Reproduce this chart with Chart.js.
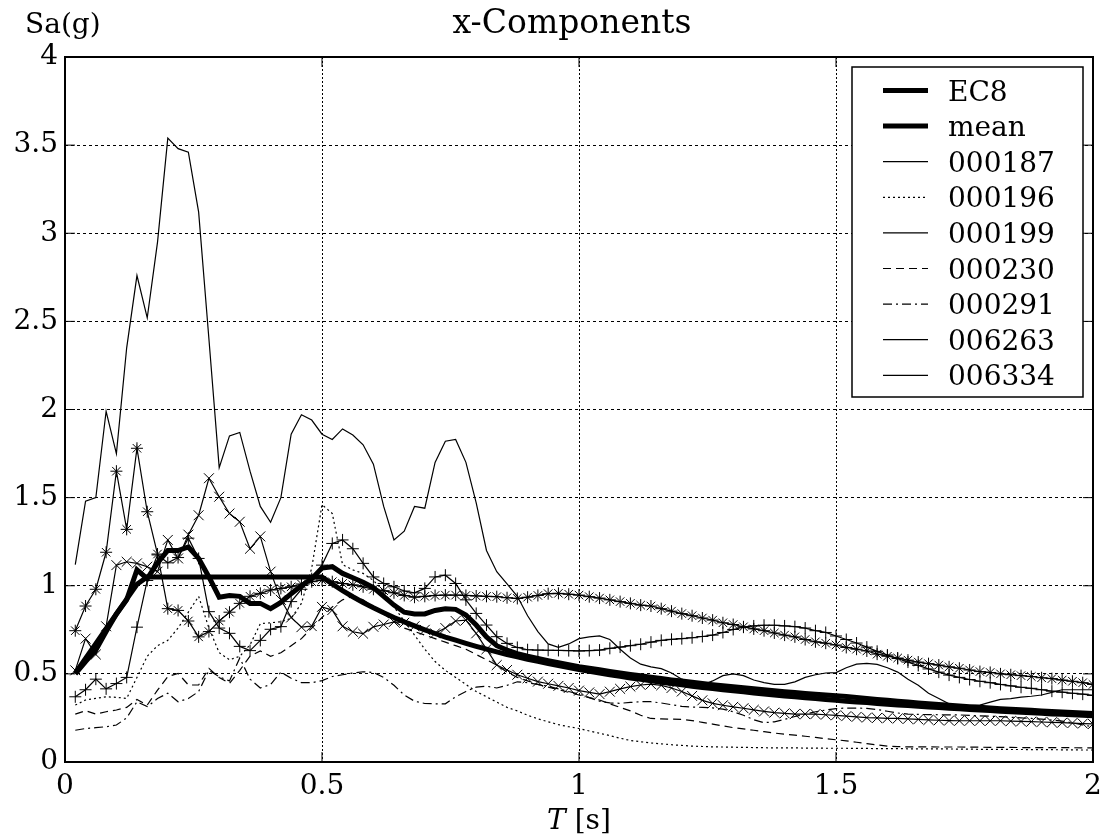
<!DOCTYPE html>
<html>
<head>
<meta charset="utf-8">
<script src="https://cdn.jsdelivr.net/npm/chart.js"></script>
<style>
  html, body { margin: 0; padding: 0; background: #fff; }
  canvas { display: block; }
</style>
</head>
<body>
<canvas id="chart" width="1101" height="836"></canvas>
<script>
// periods T [s]
const T = [
  0.02,0.04,0.06,0.08,0.10,0.12,0.14,0.16,0.18,0.20,
  0.22,0.24,0.26,0.28,0.30,0.32,0.34,0.36,0.38,0.40,
  0.42,0.44,0.46,0.48,0.50,0.52,0.54,0.56,0.58,0.60,
  0.62,0.64,0.66,0.68,0.70,0.72,0.74,0.76,0.78,0.80,
  0.82,0.84,0.86,0.88,0.90,0.92,0.94,0.96,0.98,1.00,
  1.02,1.04,1.06,1.08,1.10,1.12,1.14,1.16,1.18,1.20,
  1.22,1.24,1.26,1.28,1.30,1.32,1.34,1.36,1.38,1.40,
  1.42,1.44,1.46,1.48,1.50,1.52,1.54,1.56,1.58,1.60,
  1.62,1.64,1.66,1.68,1.70,1.72,1.74,1.76,1.78,1.80,
  1.82,1.84,1.86,1.88,1.90,1.92,1.94,1.96,1.98,2.00
]

const ec8 = [
  0.504,0.588,0.672,0.756,0.84,0.924,1.008,1.05,1.05,1.05,
  1.05,1.05,1.05,1.05,1.05,1.05,1.05,1.05,1.05,1.05,
  1.05,1.05,1.05,1.05,1.05,1.01,0.972,0.9375,0.905,0.875,
  0.847,0.820,0.795,0.772,0.75,0.729,0.709,0.691,0.673,0.656,
  0.640,0.625,0.610,0.597,0.583,0.571,0.559,0.547,0.536,0.525,
  0.515,0.505,0.495,0.486,0.477,0.469,0.461,0.453,0.445,0.4375,
  0.430,0.423,0.417,0.410,0.404,0.398,0.392,0.386,0.380,0.375,
  0.370,0.365,0.360,0.355,0.350,0.345,0.341,0.337,0.332,0.328,
  0.324,0.320,0.316,0.3125,0.309,0.305,0.302,0.298,0.295,0.292,
  0.288,0.285,0.282,0.279,0.276,0.273,0.271,0.268,0.265,0.2625
]

const mean = [
  0.50,0.57,0.635,0.74,0.84,0.92,1.09,1.04,1.13,1.20,
  1.20,1.22,1.155,1.05,0.935,0.945,0.94,0.90,0.90,0.87,
  0.905,0.955,1.0,1.04,1.10,1.108,1.07,1.045,1.02,0.99,
  0.94,0.89,0.85,0.84,0.84,0.86,0.87,0.866,0.834,0.777,
  0.71,0.66,0.635,0.615,0.60,0.587,0.575,0.563,0.552,0.541,
  0.532,0.523,0.514,0.505,0.497,0.489,0.481,0.474,0.466,0.459,
  0.452,0.445,0.439,0.433,0.427,0.421,0.415,0.41,0.404,0.399,
  0.394,0.389,0.385,0.38,0.376,0.371,0.366,0.361,0.355,0.35,
  0.345,0.34,0.335,0.33,0.326,0.322,0.318,0.314,0.31,0.306,
  0.302,0.299,0.296,0.293,0.29,0.287,0.284,0.281,0.278,0.275
]

const r000187 = [
  1.12,1.48,1.50,1.99,1.75,2.35,2.76,2.52,2.95,3.54,
  3.48,3.46,3.12,2.40,1.67,1.85,1.87,1.65,1.45,1.36,
  1.50,1.86,1.97,1.94,1.86,1.83,1.89,1.855,1.80,1.69,
  1.45,1.26,1.31,1.45,1.44,1.70,1.82,1.83,1.70,1.47,
  1.20,1.08,1.01,0.94,0.83,0.74,0.67,0.65,0.67,0.70,
  0.71,0.715,0.695,0.64,0.59,0.555,0.54,0.53,0.505,0.47,
  0.446,0.437,0.46,0.49,0.50,0.49,0.465,0.45,0.44,0.44,
  0.455,0.48,0.495,0.505,0.507,0.535,0.555,0.56,0.554,0.535,
  0.51,0.47,0.435,0.39,0.36,0.33,0.318,0.32,0.323,0.34,
  0.355,0.36,0.368,0.373,0.38,0.395,0.41,0.41,0.41,0.41
]

const r000196 = [
  0.323,0.352,0.361,0.37,0.367,0.361,0.48,0.60,0.66,0.69,
  0.76,0.85,0.94,0.76,0.62,0.58,0.60,0.665,0.785,0.79,
  0.796,0.815,0.90,1.10,1.46,1.41,1.12,1.09,1.07,1.03,
  0.97,0.88,0.80,0.72,0.64,0.57,0.52,0.48,0.44,0.40,
  0.37,0.34,0.31,0.29,0.265,0.245,0.228,0.212,0.20,0.19,
  0.176,0.163,0.15,0.135,0.122,0.115,0.108,0.103,0.098,0.094,
  0.09,0.088,0.086,0.085,0.084,0.083,0.082,0.081,0.08,0.08,
  0.08,0.079,0.079,0.078,0.078,0.078,0.077,0.077,0.076,0.076,
  0.076,0.075,0.075,0.075,0.074,0.074,0.073,0.073,0.072,0.072,
  0.072,0.071,0.071,0.07,0.07,0.07,0.069,0.069,0.068,0.068
]

const r000199 = [
  0.745,0.885,0.98,1.19,1.65,1.32,1.78,1.42,1.18,0.87,
  0.86,0.80,0.71,0.74,0.80,0.85,0.90,0.94,0.957,0.976,
  0.985,0.994,1.01,1.023,1.032,1.023,1.013,1.005,0.994,0.98,
  0.972,0.96,0.945,0.935,0.94,0.945,0.947,0.947,0.945,0.942,
  0.94,0.938,0.932,0.928,0.935,0.945,0.955,0.957,0.952,0.947,
  0.938,0.93,0.92,0.91,0.90,0.89,0.885,0.87,0.856,0.842,
  0.83,0.817,0.805,0.79,0.78,0.767,0.755,0.745,0.732,0.72,
  0.71,0.695,0.682,0.674,0.664,0.65,0.64,0.63,0.612,0.60,
  0.59,0.578,0.567,0.558,0.55,0.54,0.532,0.522,0.513,0.508,
  0.50,0.495,0.49,0.485,0.478,0.473,0.465,0.458,0.45,0.44
]

const r000230 = [
  0.272,0.291,0.272,0.285,0.295,0.31,0.355,0.323,0.408,0.484,
  0.503,0.437,0.437,0.531,0.48,0.446,0.52,0.60,0.63,0.60,
  0.62,0.66,0.70,0.76,0.82,0.88,0.92,0.94,0.92,0.88,
  0.84,0.80,0.76,0.74,0.72,0.70,0.68,0.66,0.64,0.61,
  0.58,0.55,0.51,0.48,0.46,0.44,0.425,0.41,0.395,0.38,
  0.365,0.352,0.33,0.31,0.29,0.265,0.247,0.245,0.243,0.242,
  0.235,0.225,0.215,0.205,0.195,0.188,0.18,0.172,0.164,0.158,
  0.152,0.146,0.14,0.132,0.126,0.12,0.112,0.104,0.097,0.09,
  0.087,0.086,0.086,0.086,0.085,0.085,0.085,0.084,0.084,0.083,
  0.083,0.083,0.082,0.082,0.082,0.081,0.081,0.081,0.08,0.08
]

const r000291 = [
  0.18,0.19,0.195,0.2,0.21,0.25,0.342,0.314,0.36,0.39,
  0.342,0.36,0.40,0.52,0.484,0.46,0.59,0.47,0.42,0.44,
  0.51,0.475,0.45,0.45,0.462,0.485,0.495,0.505,0.512,0.508,
  0.48,0.435,0.38,0.345,0.332,0.33,0.33,0.37,0.40,0.425,
  0.43,0.42,0.435,0.455,0.45,0.44,0.43,0.415,0.40,0.385,
  0.365,0.345,0.335,0.333,0.338,0.342,0.342,0.335,0.325,0.316,
  0.312,0.31,0.307,0.30,0.285,0.265,0.24,0.223,0.228,0.242,
  0.258,0.272,0.285,0.295,0.303,0.306,0.306,0.304,0.298,0.288,
  0.278,0.272,0.27,0.269,0.268,0.267,0.267,0.265,0.262,0.26,
  0.257,0.254,0.25,0.247,0.243,0.238,0.232,0.222,0.21,0.2
]

const r006263 = [
  0.37,0.41,0.47,0.415,0.445,0.48,0.765,1.03,1.175,1.13,
  1.16,1.27,1.155,0.853,0.76,0.73,0.656,0.632,0.69,0.753,
  0.768,0.91,0.98,1.04,1.117,1.24,1.26,1.21,1.127,1.05,
  1.013,0.994,0.97,0.96,0.985,1.05,1.06,1.013,0.92,0.843,
  0.777,0.711,0.673,0.65,0.637,0.635,0.634,0.633,0.632,0.63,
  0.632,0.635,0.645,0.652,0.66,0.668,0.68,0.69,0.696,0.70,
  0.705,0.712,0.72,0.735,0.752,0.765,0.772,0.776,0.776,0.772,
  0.768,0.76,0.745,0.735,0.715,0.695,0.675,0.652,0.628,0.607,
  0.587,0.567,0.548,0.528,0.51,0.493,0.48,0.468,0.458,0.45,
  0.44,0.432,0.424,0.418,0.41,0.402,0.396,0.39,0.385,0.378
]

const r006334 = [
  0.52,0.70,0.61,0.77,1.117,1.136,1.127,1.108,1.08,1.26,
  1.155,1.29,1.40,1.61,1.505,1.41,1.363,1.21,1.28,1.08,
  0.92,0.82,0.765,0.771,0.88,0.862,0.77,0.739,0.728,0.767,
  0.78,0.795,0.79,0.77,0.75,0.73,0.76,0.80,0.805,0.73,
  0.64,0.55,0.522,0.495,0.475,0.456,0.444,0.432,0.42,0.405,
  0.395,0.385,0.399,0.415,0.428,0.437,0.442,0.435,0.42,0.40,
  0.375,0.35,0.333,0.322,0.313,0.305,0.296,0.287,0.28,0.276,
  0.272,0.272,0.272,0.268,0.265,0.26,0.256,0.252,0.25,0.248,
  0.247,0.245,0.242,0.239,0.237,0.235,0.234,0.234,0.234,0.234,
  0.234,0.232,0.23,0.229,0.227,0.225,0.223,0.221,0.218,0.216
]

const xTicks = [0, 0.5, 1, 1.5, 2]
const yTicks = [0, 0.5, 1, 1.5, 2, 2.5, 3, 3.5, 4]

const FONT = "'DejaVu Serif', serif"

function pts(arr) {
  return T.map((t, i) => ({ x: t, y: arr[i] }))
}

function line(label, arr, width, dash, marker, radius) {
  return {
    label: label,
    data: pts(arr),
    borderColor: '#000',
    backgroundColor: 'rgba(0,0,0,0)',
    borderWidth: width,
    borderDash: dash,
    pointStyle: marker || 'circle',
    pointRadius: marker ? radius : 0,
    pointBorderWidth: 1,
    pointBorderColor: '#000',
    tension: 0,
    fill: false
  }
}

// draws the box, inward ticks, titles and the boxed legend
const decorations = {
  id: 'decorations',
  afterDatasetsDraw(chart) {
    const ctx = chart.ctx
    const a = chart.chartArea
    const xs = chart.scales.x, ys = chart.scales.y
    ctx.save()
    ctx.strokeStyle = '#000'
    ctx.setLineDash([])
    ctx.lineWidth = 1
    ctx.beginPath()
    yTicks.forEach(v => {
      const py = ys.getPixelForValue(v)
      ctx.moveTo(a.left, py); ctx.lineTo(a.left + 10, py)
      ctx.moveTo(a.right, py); ctx.lineTo(a.right - 10, py)
    })
    xTicks.forEach(v => {
      const px = xs.getPixelForValue(v)
      ctx.moveTo(px, a.bottom); ctx.lineTo(px, a.bottom - 10)
      ctx.moveTo(px, a.top); ctx.lineTo(px, a.top + 10)
    })
    ctx.stroke()
    ctx.lineWidth = 2
    ctx.strokeRect(a.left, a.top, a.right - a.left, a.bottom - a.top)
    ctx.restore()
  },
  afterDraw(chart) {
    const ctx = chart.ctx
    const a = chart.chartArea
    ctx.save()
    ctx.fillStyle = '#000'
    ctx.font = '28px ' + FONT
    ctx.textBaseline = 'alphabetic'
    ctx.textAlign = 'left'
    ctx.fillText('Sa(g)', 25, 33)
    ctx.textAlign = 'center'
    ctx.font = '33px ' + FONT
    ctx.fillText('x-Components', (a.left + a.right) / 2 - 7, 33)

    // x axis title with italic T
    ctx.textAlign = 'left'
    ctx.font = 'italic 28px ' + FONT
    const wT = ctx.measureText('T').width
    ctx.font = '28px ' + FONT
    const wS = ctx.measureText(' [s]').width
    const x0 = (a.left + a.right) / 2 - (wT + wS) / 2
    ctx.font = 'italic 28px ' + FONT
    ctx.fillText('T', x0, 829)
    ctx.font = '28px ' + FONT
    ctx.fillText(' [s]', x0 + wT, 829)

    // legend
    const bx = 852, by = 67, bw = 231, bh = 330
    ctx.fillStyle = '#fff'
    ctx.fillRect(bx, by, bw, bh)
    ctx.strokeStyle = '#000'
    ctx.lineWidth = 1.5
    ctx.setLineDash([])
    ctx.strokeRect(bx, by, bw, bh)
    chart.data.datasets.forEach((ds, i) => {
      const y = 90.5 + 35.6 * i
      ctx.beginPath()
      ctx.lineWidth = ds.borderWidth
      ctx.setLineDash(ds.borderDash || [])
      ctx.moveTo(883, y)
      ctx.lineTo(928, y)
      ctx.stroke()
      ctx.setLineDash([])
      ctx.fillStyle = '#000'
      ctx.font = '28px ' + FONT
      ctx.fillText(ds.label, 948, y + 10)
    })
    ctx.restore()
  }
}

Chart.defaults.font.family = FONT
Chart.defaults.font.size = 28
Chart.defaults.color = '#000'

new Chart(document.getElementById('chart'), {
  type: 'line',
  data: {
    datasets: [
      line('EC8', ec8, 5, []),
      line('mean', mean, 5, []),
      line('000187', r000187, 1.2, []),
      line('000196', r000196, 1.2, [2, 3]),
      line('000199', r000199, 1.2, [], 'star', 6),
      line('000230', r000230, 1.2, [8, 5]),
      line('000291', r000291, 1.2, [9, 4, 2, 4]),
      line('006263', r006263, 1.2, [], 'cross', 6),
      line('006334', r006334, 1.2, [], 'crossRot', 7)
    ]
  },
  options: {
    responsive: false,
    animation: false,
    devicePixelRatio: 1,
    layout: { padding: { top: 57, left: 0, right: 6, bottom: 0 } },
    plugins: {
      legend: { display: false },
      title: { display: false },
      tooltip: { enabled: false }
    },
    scales: {
      x: {
        type: 'linear',
        min: 0,
        max: 2,
        afterBuildTicks: (s) => { s.ticks = xTicks.map(v => ({ value: v })) },
        ticks: { padding: 8, maxRotation: 0, autoSkip: false, callback: (v) => String(v) },
        grid: { color: '#000', lineWidth: 1, drawTicks: false },
        border: { display: false, dash: [2, 2] },
        afterFit: (s) => { s.height = 74; s.paddingLeft = 0; s.paddingRight = 0 }
      },
      y: {
        min: 0,
        max: 4,
        afterBuildTicks: (s) => { s.ticks = yTicks.map(v => ({ value: v })) },
        ticks: { padding: 7, autoSkip: false, callback: (v) => String(v) },
        grid: { color: '#000', lineWidth: 1, drawTicks: false },
        border: { display: false, dash: [3, 3] },
        afterFit: (s) => { s.width = 65; s.paddingTop = 0; s.paddingBottom = 0 }
      }
    }
  },
  plugins: [decorations]
})
</script>
</body>
</html>
